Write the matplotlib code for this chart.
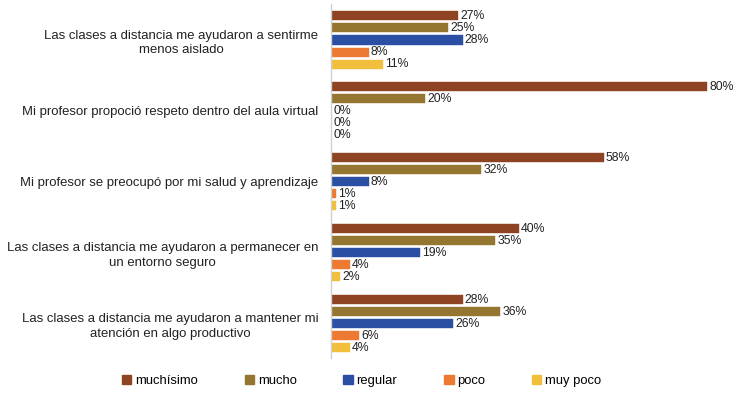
import matplotlib
matplotlib.use("Agg")
import matplotlib.pyplot as plt
from matplotlib.patches import Patch
import numpy as np

plt.rcParams['font.family'] = ['Liberation Sans', 'DejaVu Sans']

categories = [
    "Las clases a distancia me ayudaron a sentirme\nmenos aislado",
    "Mi profesor propoció respeto dentro del aula virtual",
    "Mi profesor se preocupó por mi salud y aprendizaje",
    "Las clases a distancia me ayudaron a permanecer en\nun entorno seguro",
    "Las clases a distancia me ayudaron a mantener mi\natención en algo productivo",
]
series_names = ["muchísimo", "mucho", "regular", "poco", "muy poco"]
muchisimo = [27, 80, 58, 40, 28]
mucho = [25, 20, 32, 35, 36]
regular = [28, 0, 8, 19, 26]
poco = [8, 0, 1, 4, 6]
muy_poco = [11, 0, 1, 2, 4]
series = [muchisimo, mucho, regular, poco, muy_poco]
colors = ["#8E4423", "#957630", "#2B4FA2", "#EC7A33", "#F2BF3C"]

fig = plt.figure(figsize=(7.37, 3.96), dpi=100)
ax = fig.add_axes([0.449, 0.095, 0.523, 0.895])

G = 5.9
bh = 0.75
for j, (vals, c) in enumerate(zip(series, colors)):
    ys = [i * G + j for i in range(len(categories))]
    ax.barh(ys, vals, height=bh, color=c, edgecolor=c, linewidth=0.3)
    for y, v in zip(ys, vals):
        ax.text(v + 0.45, y, f"{v}%", va='center', ha='left', fontsize=8.8, color='#222222')

ax.set_yticks([i * G + 2 for i in range(len(categories))])
ax.set_yticklabels(categories, fontsize=9.45, multialignment='center', color='#222222',
                   linespacing=1.3)
ax.tick_params(axis='y', length=0, pad=9)
ax.set_xticks([])
ax.set_xlim(0, 82)
ax.set_ylim(4 * G + 4 + 0.9, -1.0)
for s in ['top', 'right', 'bottom']:
    ax.spines[s].set_visible(False)
ax.spines['left'].set_color('#d0d0d0')
ax.spines['left'].set_linewidth(1.0)

legend_x = [0.165, 0.332, 0.466, 0.603, 0.722]
for name, c, lx in zip(series_names, colors, legend_x):
    fig.legend([Patch(facecolor=c, edgecolor=c)], [name], loc='center left',
               bbox_to_anchor=(lx, 0.038), frameon=False, fontsize=9.4,
               handlelength=0.7, handleheight=0.7, handletextpad=0.3,
               borderpad=0, borderaxespad=0)

fig.savefig("out.png", dpi=100, facecolor='white')
